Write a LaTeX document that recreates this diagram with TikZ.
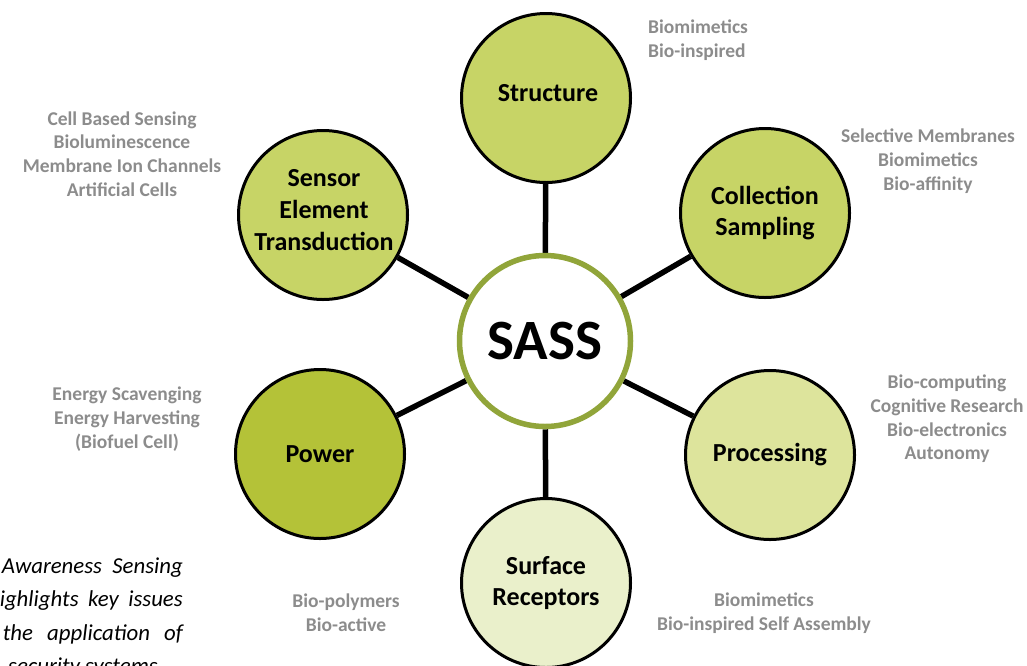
\documentclass[tikz,border=0pt]{standalone}
\usepackage{fontspec}
\setmainfont{Carlito}
\usetikzlibrary{backgrounds}
\definecolor{midgreen}{RGB}{199,212,102}
\definecolor{darkgreen}{RGB}{180,194,56}
\definecolor{palegreen}{RGB}{221,228,156}
\definecolor{paler}{RGB}{234,240,203}
\definecolor{ringgreen}{RGB}{145,165,58}
\definecolor{notegray}{RGB}{140,140,140}
\begin{document}
\begin{tikzpicture}[x=1pt,y=-1pt,
  petal/.style={circle, draw=black, line width=3pt, minimum size=169pt, inner sep=0pt, align=center,
    font=\bfseries\fontsize{26}{31.7}\selectfont},
  petaltext/.style={inner sep=0pt, align=center, font=\bfseries\fontsize{26}{31.7}\selectfont},
  hub/.style={circle, draw=ringgreen, fill=white, line width=5.5pt, minimum size=171pt, inner sep=0pt,
    font=\bfseries\fontsize{57}{60}\selectfont},
  note/.style={text=notegray, align=center, inner sep=0pt, font=\bfseries\fontsize{19.5}{23.7}\selectfont},
  spoke/.style={line width=5.5pt, black},
  para/.style={inner sep=0pt, font=\itshape\fontsize{22.8}{33.5}\selectfont}]
\useasboundingbox (0,0) rectangle (1027,665);

\node[hub] (sass) at (545,341) {SASS};
\node[petal, fill=midgreen] (struct) at (546,98) {};
\node[petaltext] (structlbl) at (548,93) {Structure};
\node[petal, fill=midgreen] (coll) at (765,213) {Collection\\Sampling};
\node[petal, fill=palegreen] (proc) at (770,455) {Processing};
\node[petal, fill=paler] (surf) at (546,583) {Surface\\Receptors};
\node[petal, fill=darkgreen] (power) at (320,454) {Power};
\node[petal, fill=midgreen] (sensor) at (323,215) {};
\node[petaltext] (sensorlbl) at (324,210) {Sensor\\Element\\Transduction};

\begin{scope}[on background layer]
\foreach \n in {struct,coll,proc,surf,power,sensor}
  \draw[spoke] (sass) -- (\n);
\end{scope}

\node[note, anchor=west, align=left] (nstruct) at (648,40) {Biomimetics\\Bio-inspired};
\node[note] (nsensor) at (122,154) {Cell Based Sensing\\Bioluminescence\\Membrane Ion Channels\\Artificial Cells};
\node[note] (ncoll) at (928,161) {Selective Membranes\\Biomimetics\\Bio-affinity};
\node[note] (nproc) at (947,419) {Bio-computing\\Cognitive Research\\Bio-electronics\\Autonomy};
\node[note] (npower) at (127,419) {Energy Scavenging\\Energy Harvesting\\(Biofuel Cell)};
\node[note] (nsurfl) at (346,613) {Bio-polymers\\Bio-active};
\node[note] (nsurfr) at (764,613) {Biomimetics\\Bio-inspired Self Assembly};

\node[para, anchor=base east] (p1) at (183,573) {\makebox[181pt][s]{Awareness Sensing}};
\node[para, anchor=base east] (p2) at (183,606) {\makebox[183pt][s]{ighlights key issues}};
\node[para, anchor=base east] (p3) at (183,640) {\makebox[180pt][s]{the application of}};
\node[para, anchor=base west] (p4) at (8,673) {security systems};
\end{tikzpicture}
\end{document}
